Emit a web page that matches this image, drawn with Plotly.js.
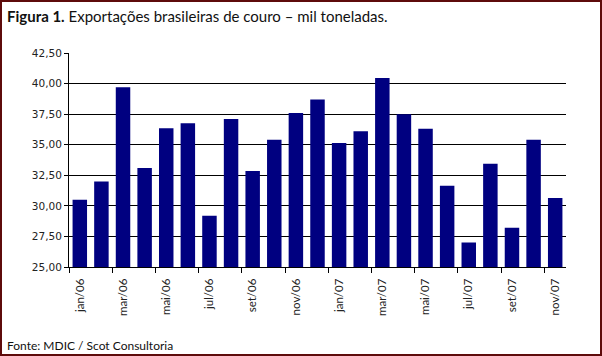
<!DOCTYPE html>
<html>
<head>
<meta charset="utf-8">
<script src="https://cdn.plot.ly/plotly-3.0.1.min.js"></script>
<style>
html, body { margin: 0; padding: 0; background: #fff; }
#frame { width: 602px; height: 356px; box-sizing: border-box; border: 2px solid #5e0b0b; }
#chart { width: 598px; height: 352px; }
</style>
</head>
<body>
<div id="frame"><div id="chart"></div></div>
<script>
const months = ["jan/06","fev/06","mar/06","abr/06","mai/06","jun/06","jul/06","ago/06","set/06","out/06","nov/06","dez/06",
                "jan/07","fev/07","mar/07","abr/07","mai/07","jun/07","jul/07","ago/07","set/07","out/07","nov/07"];
const exportsKt = [30.5, 32.0, 39.7, 33.1, 36.35, 36.75, 29.2, 37.1, 32.85, 35.4, 37.6, 38.7,
                   35.15, 36.1, 40.45, 37.5, 36.3, 31.65, 27.0, 33.45, 28.2, 35.4, 30.65];
const yTicks = [25, 27.5, 30, 32.5, 35, 37.5, 40, 42.5];
const titleText = "<b>Figura 1.</b> Exportações brasileiras de couro – mil toneladas.";
const sourceText = "Fonte: MDIC / Scot Consultoria";

const trace = {
  type: "bar",
  x: months,
  y: exportsKt,
  base: 0,
  marker: { color: "#000080", line: { width: 0 } },
  hoverinfo: "x+y"
};

const layout = {
  width: 598, height: 352,
  margin: { l: 67, r: 34, t: 51, b: 87, pad: 0 },
  paper_bgcolor: "#ffffff",
  plot_bgcolor: "#ffffff",
  separators: ",.",
  showlegend: false,
  bargap: 0.33,
  title: {
    text: titleText,
    font: { family: "Lato, 'Open Sans', sans-serif", size: 15, color: "#111" },
    x: 5 / 598, xanchor: "left", xref: "container",
    y: 1 - 15 / 352, yanchor: "middle", yref: "container"
  },
  xaxis: {
    type: "category",
    tickmode: "linear", tick0: 0, dtick: 2,
    tickson: "boundaries",
    ticks: "outside", ticklen: 5, tickwidth: 1, tickcolor: "#000",
    tickangle: -90,
    ticklabelstandoff: 6,
    tickfont: { family: "Lato, 'Open Sans', sans-serif", size: 11.5, color: "#222" },
    showline: true, linecolor: "#000", linewidth: 1,
    showgrid: false, zeroline: false,
    range: [-0.5, 22.5]
  },
  yaxis: {
    range: [25, 42.5],
    tickmode: "array", tickvals: yTicks,
    tickformat: ".2f",
    ticks: "outside", ticklen: 4, tickwidth: 1, tickcolor: "#000",
    tickfont: { family: "'DejaVu Sans', Verdana, sans-serif", size: 10.5, color: "#222" },
    showline: true, linecolor: "#000", linewidth: 1,
    showgrid: true, gridcolor: "#000", gridwidth: 1,
    zeroline: false
  },
  annotations: [{
    text: sourceText,
    xref: "paper", yref: "paper",
    x: -64 / 497, y: -78 / 214,
    xanchor: "left", yanchor: "middle",
    showarrow: false,
    font: { family: "Lato, 'Open Sans', sans-serif", size: 12, color: "#111" }
  }]
};

Plotly.newPlot("chart", [trace], layout, { displayModeBar: false, staticPlot: true });
</script>
</body>
</html>
